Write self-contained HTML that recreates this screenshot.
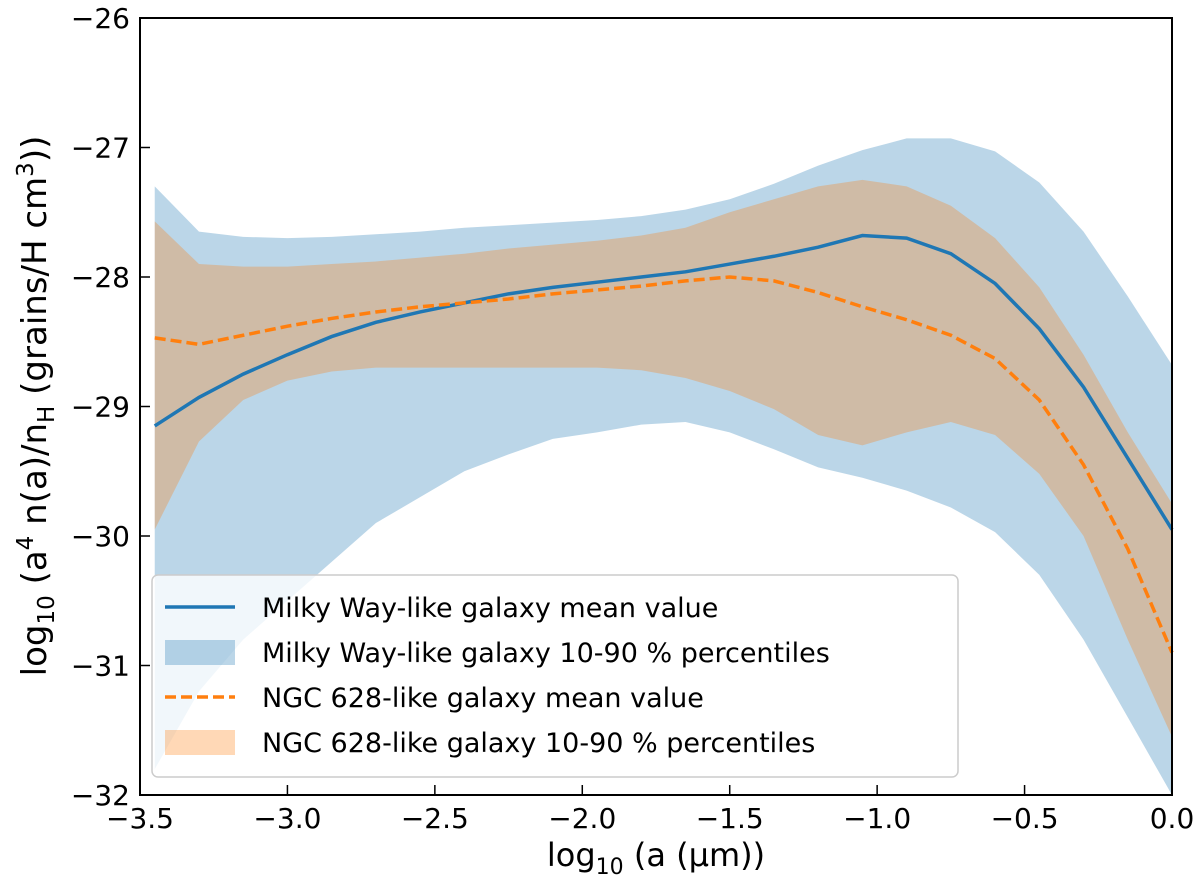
<!DOCTYPE html>
<html><head><meta charset="utf-8"><style>
body{margin:0;background:#fff;font-family:"Liberation Sans","DejaVu Sans",sans-serif}
</style></head><body>
<svg id="chart" width="1200" height="887" xmlns="http://www.w3.org/2000/svg" font-family="DejaVu Sans, Liberation Sans, sans-serif">
<g id="plot"></g>
<rect x="140" y="18" width="1032" height="777" fill="none" stroke="#000" stroke-width="2"/>
<g id="ticks"></g>
<text x="656" y="866" font-size="32" text-anchor="middle">log<tspan font-size="22" dy="8">10</tspan><tspan dy="-8"> (a (μm))</tspan></text>
<text transform="translate(46,406) rotate(-90)" font-size="34" text-anchor="middle">log<tspan font-size="23" dy="8">10</tspan><tspan dy="-8"> (a</tspan><tspan font-size="23" dy="-13">4</tspan><tspan dy="13"> n(a)/n</tspan><tspan font-size="23" dy="8">H</tspan><tspan dy="-8"> (grains/H cm</tspan><tspan font-size="23" dy="-13">3</tspan><tspan dy="13">))</tspan></text>
<g>
<rect x="152" y="575" width="806" height="202" rx="6" fill="#fff" fill-opacity="0.8" stroke="#ccc" stroke-width="1.5"/>
<line x1="165" y1="607" x2="235" y2="607" stroke="#1f77b4" stroke-width="3.5"/>
<text x="262" y="617" font-size="27">Milky Way-like galaxy mean value</text>
<rect x="165" y="640" width="70" height="25" fill="#1f77b4" fill-opacity="0.3"/>
<text x="262" y="662" font-size="27">Milky Way-like galaxy 10-90 % percentiles</text>
<line x1="165" y1="697" x2="235" y2="697" stroke="#ff7f0e" stroke-width="3.5" stroke-dasharray="11,5"/>
<text x="262" y="707" font-size="27">NGC 628-like galaxy mean value</text>
<rect x="165" y="730" width="70" height="25" fill="#ff7f0e" fill-opacity="0.3"/>
<text x="262" y="752" font-size="27">NGC 628-like galaxy 10-90 % percentiles</text>
</g>
</svg>
<script>
const xs=[-3.45,-3.3,-3.15,-3.0,-2.85,-2.7,-2.55,-2.4,-2.25,-2.1,-1.95,-1.8,-1.65,-1.5,-1.35,-1.2,-1.05,-0.9,-0.75,-0.6,-0.45,-0.3,-0.15,0.0];
const mwMean=[-29.15,-28.93,-28.75,-28.6,-28.46,-28.35,-28.27,-28.2,-28.13,-28.08,-28.04,-28.0,-27.96,-27.9,-27.84,-27.77,-27.68,-27.7,-27.82,-28.05,-28.4,-28.85,-29.4,-29.95];
const mwHi=[-27.3,-27.65,-27.69,-27.7,-27.69,-27.67,-27.65,-27.62,-27.6,-27.58,-27.56,-27.53,-27.48,-27.4,-27.28,-27.14,-27.02,-26.93,-26.93,-27.03,-27.27,-27.65,-28.15,-28.68];
const mwLo=[-31.8,-31.2,-30.8,-30.5,-30.2,-29.9,-29.7,-29.5,-29.37,-29.25,-29.2,-29.14,-29.12,-29.2,-29.33,-29.47,-29.55,-29.65,-29.78,-29.97,-30.3,-30.8,-31.4,-32.0];
const ngcMean=[-28.47,-28.52,-28.45,-28.38,-28.32,-28.27,-28.23,-28.2,-28.17,-28.13,-28.1,-28.07,-28.03,-28.0,-28.03,-28.12,-28.23,-28.33,-28.45,-28.63,-28.95,-29.45,-30.1,-30.9];
const ngcHi=[-27.57,-27.9,-27.92,-27.92,-27.9,-27.88,-27.85,-27.82,-27.78,-27.75,-27.72,-27.68,-27.62,-27.5,-27.4,-27.3,-27.25,-27.3,-27.45,-27.7,-28.08,-28.6,-29.2,-29.75];
const ngcLo=[-29.95,-29.27,-28.95,-28.8,-28.73,-28.7,-28.7,-28.7,-28.7,-28.7,-28.7,-28.72,-28.78,-28.88,-29.02,-29.22,-29.3,-29.2,-29.12,-29.22,-29.52,-30.0,-30.8,-31.55];
const xTicks=[-3.5,-3.0,-2.5,-2.0,-1.5,-1.0,-0.5,0.0];
const xTickLabels=["−3.5","−3.0","−2.5","−2.0","−1.5","−1.0","−0.5","0.0"];
const yTicks=[-26,-27,-28,-29,-30,-31,-32];
const yTickLabels=["−26","−27","−28","−29","−30","−31","−32"];
const NS="http://www.w3.org/2000/svg";
const X=v=>140+(v+3.5)/3.5*1032;
const Y=v=>18+(-26-v)/6*777;
const plot=document.getElementById('plot'),tk=document.getElementById('ticks');
function mk(t,a,p){const e=document.createElementNS(NS,t);for(const k in a)e.setAttribute(k,a[k]);p.appendChild(e);return e;}
function band(hi,lo,color,name){
 let d=xs.map((x,i)=>(i?'L':'M')+X(x)+','+Y(hi[i])).join('');
 for(let i=xs.length-1;i>=0;i--)d+='L'+X(xs[i])+','+Y(lo[i]);
 const e=mk('path',{d:d+'Z',fill:color,'fill-opacity':0.3},plot);
 
 
}
function line(v,color,dash,name){
 const e=mk('path',{d:xs.map((x,i)=>(i?'L':'M')+X(x)+','+Y(v[i])).join(''),fill:'none',stroke:color,'stroke-width':3.5,'stroke-dasharray':dash},plot);
 
 
}
band(mwHi,mwLo,'#1f77b4','mw-percentile-band');
band(ngcHi,ngcLo,'#ff7f0e','ngc-percentile-band');
line(mwMean,'#1f77b4','none','mw-mean-line');
line(ngcMean,'#ff7f0e','11,5','ngc-mean-line');
xTicks.forEach((v,i)=>{
 const l=mk('line',{x1:X(v),x2:X(v),y1:795,y2:785,stroke:'#000','stroke-width':1.5},tk);
 
 
 const t=mk('text',{x:X(v),y:828,'font-size':28,'text-anchor':'middle'},tk);t.textContent=xTickLabels[i];
 
 
});
yTicks.forEach((v,i)=>{
 const l=mk('line',{x1:140,x2:150,y1:Y(v),y2:Y(v),stroke:'#000','stroke-width':1.5},tk);
 
 
 const t=mk('text',{x:130,y:Y(v)+10,'font-size':28,'text-anchor':'end'},tk);t.textContent=yTickLabels[i];
 
 
});
</script>
</body></html>
